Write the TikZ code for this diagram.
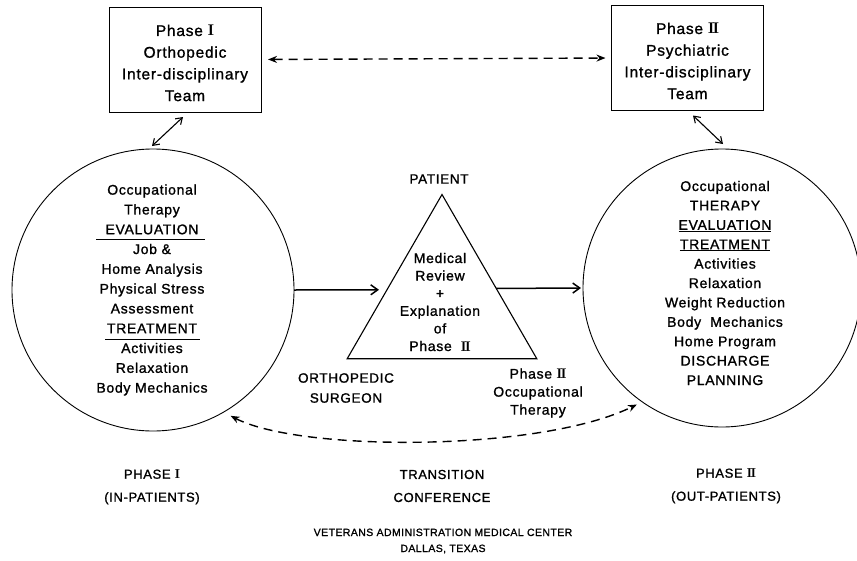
\documentclass[tikz,border=0pt]{standalone}
\usepackage{fontspec}
\setmainfont{Liberation Sans}[LetterSpace=5,FakeBold=1.2]
\usetikzlibrary{arrows.meta,calc,shapes.geometric}
\newcommand\romI{{\fontfamily{lmr}\bfseries I}}
\newcommand\romII{{\fontfamily{lmr}\bfseries I\kern-0.1em I}}
\tikzset{
  box/.style={draw, line width=1pt, minimum width=152pt, minimum height=105pt, inner sep=0pt, outer sep=0pt},
  ring/.style={draw, circle, line width=0.9pt, inner sep=0pt, outer sep=0pt},
  tri/.style={draw, regular polygon, regular polygon sides=3, line width=1.1pt, inner sep=0pt, outer sep=0pt},
  txt/.style={align=center, inner sep=0pt, font=\fontsize{14}{19.8}\selectfont},
  boxtxt/.style={align=center, inner sep=0pt, font=\fontsize{15.5}{21.7}\selectfont},
  lbl/.style={align=center, inner sep=0pt, font=\fontsize{13}{23}\selectfont},
  sarr/.style={line width=1.5pt, -{Straight Barb[length=7pt,width=10pt]}},
  darr/.style={line width=1.4pt, dash pattern=on 9pt off 6pt, {Stealth[length=9pt,width=7pt]}-{Stealth[length=9pt,width=7pt]}},
  dbl/.style={line width=1.1pt, {Straight Barb[length=6pt,width=8pt]}-{Straight Barb[length=6pt,width=8pt]}},
  uline/.style={line width=1pt},
}
\begin{document}
\begin{tikzpicture}[x=1pt,y=-1pt]
\useasboundingbox (0,0) rectangle (857,560);
\fill[white] (0,0) rectangle (857,560);

% team boxes
\node[box] (lb) at (185,59.5) {};
\node[boxtxt] (lbt) at (185,63) {Phase \romI\\Orthopedic\\Inter-disciplinary\\Team};
\node[box] (rb) at (687.5,58) {};
\node[boxtxt] (rbt) at (687.5,61) {Phase \romII\\Psychiatric\\Inter-disciplinary\\Team};

% circles
\node[ring, minimum size=282pt] (lc) at (153,290) {};
\node[ring, minimum size=278pt] (rc) at (722,288) {};

% triangle
\node[tri, minimum size=219pt] (tr) at (442,304) {};

% circle texts
\node[txt] (lct) at (152,290) {Occupational\\Therapy\\EVALUATION\\Job \&\\Home Analysis\\Physical Stress\\Assessment\\TREATMENT\\Activities\\Relaxation\\Body Mechanics};
\draw[uline] (96,239) coordinate (u1a) -- (205,239) coordinate (u1b);
\draw[uline] (105,339) coordinate (u2a) -- (200,339) coordinate (u2b);

\node[txt, font=\fontsize{14}{19.4}\selectfont] (rct) at (725,283) {Occupational\\THERAPY\\\underline{EVALUATION}\\\underline{TREATMENT}\\Activities\\Relaxation\\Weight Reduction\\Body\ \ Mechanics\\Home Program\\DISCHARGE\\PLANNING};

% triangle text and corner labels
\node[txt, font=\fontsize{14}{17.6}\selectfont] (trt) at (440,302) {Medical\\Review\\+\\Explanation\\of\\Phase\ \ \romII};
\node[txt, font=\fontsize{13.5}{20}\selectfont] (pat) at (439,179) {PATIENT};
\node[txt, font=\fontsize{13.5}{20}\selectfont] (ors) at (346,388) {ORTHOPEDIC\\SURGEON};
\node[txt, font=\fontsize{14}{18}\selectfont] (pot) at (538,393) {Phase \romII\\Occupational\\Therapy};

% bottom labels
\node[lbl] (p1) at (152,487) {PHASE \romI\\(IN-PATIENTS)};
\node[lbl] (tc) at (442,486) {TRANSITION\\CONFERENCE};
\node[lbl] (p2) at (726,486) {PHASE \romII\\(OUT-PATIENTS)};
\node[align=center, inner sep=0pt, font=\fontsize{10.5}{16}\selectfont\addfontfeatures{LetterSpace=4}] (va) at (443,541) {VETERANS ADMINISTRATION MEDICAL CENTER\\DALLAS, TEXAS};

% connectors
\draw[darr, shorten <=7pt, shorten >=6pt] (lb.east) -- (rb.west);
\draw[dbl] ($(lb.south)+(-2,5)$) -- ($(lc.north)+(-1,-3)$);
\draw[dbl] ($(rb.south)+(5.5,5)$) -- ($(rc.north)+(1,-5)$);
\draw[sarr, shorten >=8pt] (lc.east) -- ($(tr.corner 1)!0.58!(tr.corner 2)$);
\draw[sarr, shorten >=2pt] ($(tr.corner 1)!0.572!(tr.corner 3)$) -- (rc.west);
\draw[darr, shorten <=8pt, shorten >=6pt] (lc.-60) .. controls (300,452) and (540,452) .. (rc.-125);
\end{tikzpicture}
\end{document}
